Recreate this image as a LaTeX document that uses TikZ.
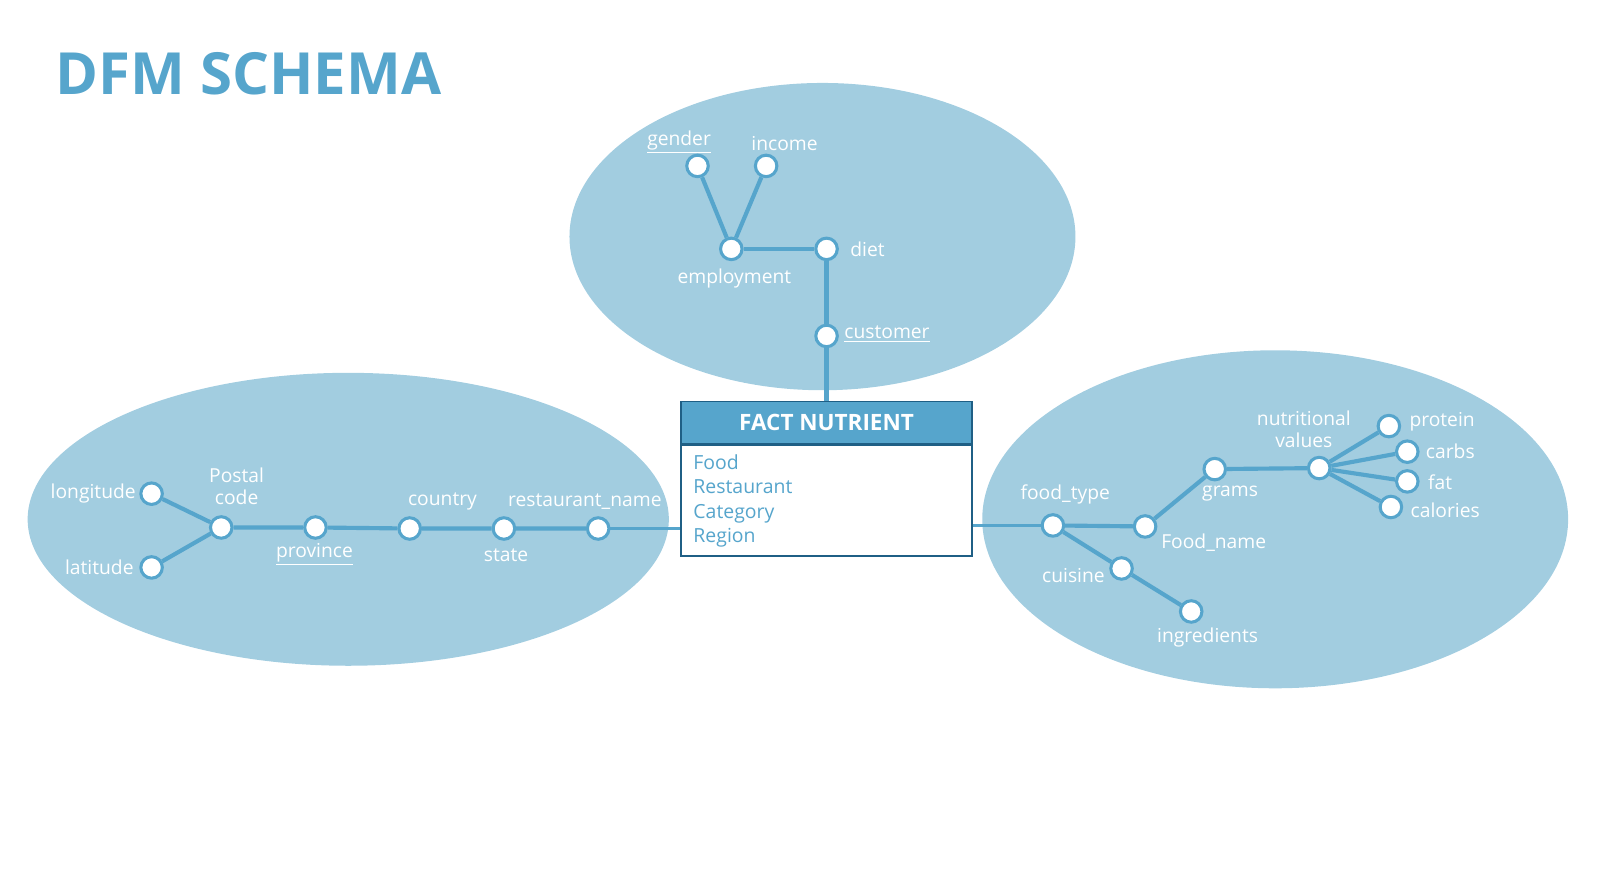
\documentclass[tikz,border=0pt]{standalone}
\usepackage{fontspec}
\setmainfont{Open Sans}
\usepackage{tikz}
\definecolor{dfmblue}{HTML}{56A5CC}
\definecolor{dfmlight}{HTML}{A2CDE0}
\definecolor{dfmdark}{HTML}{1F5F85}

\begin{document}
\begin{tikzpicture}[x=0.02cm, y=-0.02cm,
    attr/.style={circle, draw=dfmblue, fill=white, line width=1.7pt, minimum size=0.42cm, inner sep=0pt},
    lbl/.style={text=white, font=\fontsize{10.7}{12.5}\selectfont, inner sep=0pt, align=center},
    conn/.style={dfmblue, line width=2.3pt},
    dim/.style={fill=dfmlight, draw=none}]
  \useasboundingbox (0,0) rectangle (1568,851);

  % title
  \node[anchor=west, text=dfmblue, font=\fontsize{32.3}{36}\selectfont\bfseries, inner sep=0pt]
    (title) at (54,72) {DFM SCHEMA};

  % hierarchies
  \fill[dim] (803,231) ellipse [x radius=247, y radius=150];
  \fill[dim] (340,507) ellipse [x radius=313, y radius=143];
  \fill[dim] (1245,507) ellipse [x radius=286, y radius=165];

  % fact
  \node[draw=dfmdark, fill=dfmblue, line width=1.1pt, minimum width=5.68cm, minimum height=0.82cm,
        text=white, font=\fontsize{12.5}{14}\selectfont\bfseries, inner sep=0pt]
    (hdr) at (807,412.5) {FACT NUTRIENT};
  \node[draw=dfmdark, fill=white, line width=1.1pt, anchor=north, minimum width=5.68cm,
        minimum height=2.16cm, text width=5.2cm, align=left, text=dfmblue,
        font=\fontsize{10.8}{13.6}\selectfont, inner xsep=0.24cm, inner ysep=0.1cm]
    (body) at (hdr.south) {Food\\Restaurant\\Category\\Region};

  % customer
  \node[attr] (gender) at (681,162) {};
  \node[attr] (income) at (748,162) {};
  \node[attr] (employ) at (714,243) {};
  \node[attr] (diet) at (807,243) {};
  \node[attr] (cust) at (807,328) {};
  \node[lbl] (gender-l) at (663,139) {\underline{gender}};
  \node[lbl] (income-l) at (766,140) {income};
  \node[lbl] (employ-l) at (717,272) {employment};
  \node[lbl] (diet-l) at (847,243) {diet};
  \node[lbl] (cust-l) at (866,326) {\underline{customer}};
  \draw[conn] (gender) -- (employ);
  \draw[conn] (income) -- (employ);
  \draw[conn] (employ) -- (diet);
  \draw[conn] (diet) -- (cust);
  \draw[conn] (cust) -- (hdr.north);

  % restaurant
  \node[attr] (longi) at (148,482) {};
  \node[attr] (lati) at (148,554) {};
  \node[attr] (postal) at (216,515) {};
  \node[attr] (prov) at (308,515) {};
  \node[attr] (country) at (400,516) {};
  \node[attr] (state) at (492,516) {};
  \node[attr] (rname) at (584,516) {};
  \node[lbl] (longi-l) at (91,482) {longitude};
  \node[lbl] (lati-l) at (97,554) {latitude};
  \node[lbl] (postal-l) at (231,475) {Postal\\code};
  \node[lbl] (prov-l) at (307,541) {\underline{province}};
  \node[lbl] (country-l) at (432,490) {country};
  \node[lbl] (state-l) at (494,542) {state};
  \node[lbl] (rname-l) at (571,490) {restaurant\_name};
  \draw[conn] (longi) -- (postal);
  \draw[conn] (lati) -- (postal);
  \draw[conn] (postal) -- (prov) -- (country) -- (state) -- (rname);
  \draw[conn, line width=1.9pt] (rname) -- (rname -| body.west);

  % food
  \node[attr] (ftype) at (1028,513) {};
  \node[attr] (fname) at (1118,514) {};
  \node[attr] (grams) at (1186,458) {};
  \node[attr] (nutri) at (1288,457) {};
  \node[attr] (protein) at (1356,416) {};
  \node[attr] (carbs) at (1374,441) {};
  \node[attr] (fat) at (1374,470) {};
  \node[attr] (cal) at (1358,495) {};
  \node[attr] (cuisine) at (1095,555) {};
  \node[attr] (ingr) at (1163,597) {};
  \node[lbl] (ftype-l) at (1040,483) {food\_type};
  \node[lbl] (fname-l) at (1185,530) {Food\_name};
  \node[lbl] (grams-l) at (1201,482) {grams};
  \node[lbl] (nutri-l) at (1273,419) {nutritional\\values};
  \node[lbl] (protein-l) at (1408,412) {protein};
  \node[lbl] (carbs-l) at (1416,441) {carbs};
  \node[lbl] (fat-l) at (1406,471) {fat};
  \node[lbl] (cal-l) at (1411,498) {calories};
  \node[lbl] (cuisine-l) at (1048,562) {cuisine};
  \node[lbl] (ingr-l) at (1179,622) {ingredients};
  \draw[conn, line width=1.9pt] (body.east |- ftype) -- (ftype);
  \draw[conn] (ftype) -- (fname) -- (grams) -- (nutri);
  \draw[conn] (nutri) -- (protein);
  \draw[conn] (nutri) -- (carbs);
  \draw[conn] (nutri) -- (fat);
  \draw[conn] (nutri) -- (cal);
  \draw[conn] (ftype) -- (cuisine) -- (ingr);
\end{tikzpicture}
\end{document}
